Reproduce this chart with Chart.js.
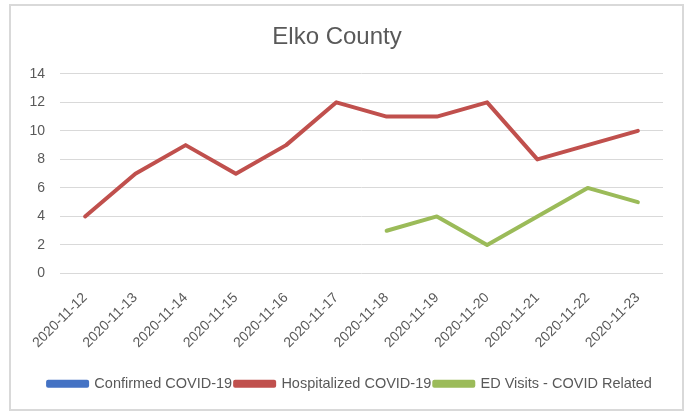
<!DOCTYPE html>
<html>
<head>
  <title>Elko County</title>
  <script src="https://cdn.jsdelivr.net/npm/chart.js"></script>
  <style>
    body { margin: 0; background: #fff; }
    #wrap { position: absolute; left: 9px; top: 4px; width: 671px; height: 403px; border: 2px solid #d9d9d9; }
  </style>
</head>
<body>
<div id="wrap"><canvas id="elkoChart"></canvas></div>

<script>
  // chart values
  const dates = ['2020-11-12', '2020-11-13', '2020-11-14', '2020-11-15', '2020-11-16', '2020-11-17',
                 '2020-11-18', '2020-11-19', '2020-11-20', '2020-11-21', '2020-11-22', '2020-11-23'];
  const confirmed = [null, null, null, null, null, null, null, null, null, null, null, null];
  const hospitalized = [4, 7, 9, 7, 9, 12, 11, 11, 12, 8, 9, 10];
  const edVisits = [null, null, null, null, null, null, 3, 4, 2, 4, 6, 5];
  const yTicks = [0, 2, 4, 6, 8, 10, 12, 14];

  const font = "'Liberation Sans', sans-serif";
  const grey = '#595959';

  // the legend in the original sits a little right of centre
  const nudgeLegend = {
      id: 'nudgeLegend',
      afterLayout: chart => { chart.legend.left += 26; }
  };

  const ctx = document.getElementById('elkoChart').getContext('2d');
  new Chart(ctx, {
      type: 'line',
      data: {
          labels: dates,
          datasets: [
              { label: 'Confirmed COVID-19', data: confirmed, borderColor: '#4472C4', backgroundColor: '#4472C4' },
              { label: 'Hospitalized COVID-19', data: hospitalized, borderColor: '#C0504D', backgroundColor: '#C0504D' },
              { label: 'ED Visits - COVID Related', data: edVisits, borderColor: '#9BBB59', backgroundColor: '#9BBB59' }
          ]
      },
      plugins: [nudgeLegend],
      options: {
          responsive: true,
          maintainAspectRatio: false,
          animation: false,
          layout: { padding: { left: 0, right: 19, top: 0, bottom: 8 } },
          elements: {
              line: { borderWidth: 4, tension: 0, borderJoinStyle: 'round', borderCapStyle: 'round' },
              point: { radius: 0 }
          },
          plugins: {
              title: {
                  display: true, text: 'Elko County', color: grey,
                  font: { family: font, size: 24, weight: 'normal' },
                  padding: { top: 17, bottom: 22 }
              },
              legend: {
                  position: 'bottom',
                  labels: {
                      color: grey, boxWidth: 39, boxHeight: 4, padding: 3,
                      font: { family: font, size: 14.5 }
                  }
              },
              tooltip: { enabled: false }
          },
          scales: {
              x: {
                  offset: true,
                  grid: { display: false },
                  border: { display: false },
                  afterFit: axis => { axis.height = 100; },
                  ticks: { color: grey, minRotation: 45, maxRotation: 45, padding: 8, font: { family: font, size: 14 } }
              },
              y: {
                  min: 0, max: 14,
                  afterBuildTicks: axis => { axis.ticks = yTicks.map(v => ({ value: v })); },
                  afterFit: axis => { axis.width = 49; },
                  grid: { color: '#d9d9d9', lineWidth: 1, drawTicks: false },
                  border: { display: false },
                  ticks: { color: grey, padding: 15, font: { family: font, size: 14 } }
              }
          }
      }
  });
</script>
</body>
</html>
